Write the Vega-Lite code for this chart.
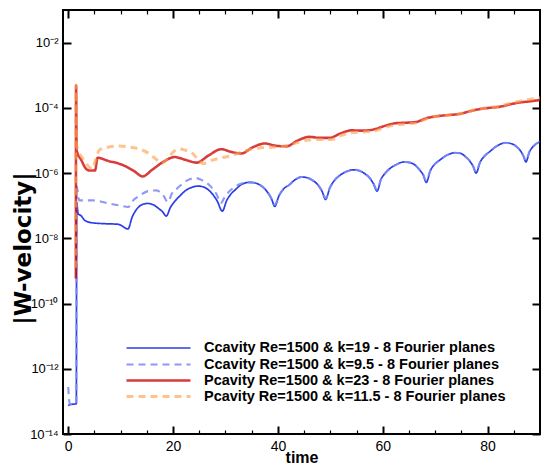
{
  "$schema": "https://vega.github.io/schema/vega-lite/v6.json",
  "width": 477,
  "height": 424,
  "autosize": {"type": "none"},
  "padding": {"left": 63, "top": 10, "right": 1, "bottom": 32},
  "background": "white",
  "config": {
    "view": {"stroke": "black", "strokeWidth": 2},
    "axis": {"ticks": true, "tickColor": "black", "tickWidth": 2, "labelColor": "black", "domain": false, "grid": false, "titleColor": "black"},
    "legend": {
      "orient": "none", "legendX": 86, "legendY": 329, "padding": 0,
      "symbolType": "M-4,0H4", "symbolSize": 256,
      "labelFont": "Liberation Sans", "labelFontSize": 14.5, "labelFontWeight": "bold", "labelColor": "black",
      "labelOffset": 36, "rowPadding": -0.5, "labelLimit": 0
    }
  },
  "data": {"values": [
    {"series": "Ccavity Re=1500 & k=19 - 8 Fourier planes", "time": 0, "velocity": 7.4e-14},
    {"series": "Ccavity Re=1500 & k=19 - 8 Fourier planes", "time": 0.3, "velocity": 7.9e-14},
    {"series": "Ccavity Re=1500 & k=19 - 8 Fourier planes", "time": 1.55, "velocity": 8.5e-14},
    {"series": "Ccavity Re=1500 & k=19 - 8 Fourier planes", "time": 1.6, "velocity": 1.26e-7},
    {"series": "Ccavity Re=1500 & k=19 - 8 Fourier planes", "time": 1.9, "velocity": 5.6e-8},
    {"series": "Ccavity Re=1500 & k=19 - 8 Fourier planes", "time": 2.4, "velocity": 5.0e-8},
    {"series": "Ccavity Re=1500 & k=19 - 8 Fourier planes", "time": 3.2, "velocity": 3.5e-8},
    {"series": "Ccavity Re=1500 & k=19 - 8 Fourier planes", "time": 4.5, "velocity": 3.0e-8},
    {"series": "Ccavity Re=1500 & k=19 - 8 Fourier planes", "time": 7.0, "velocity": 2.8e-8},
    {"series": "Ccavity Re=1500 & k=19 - 8 Fourier planes", "time": 9.5, "velocity": 2.7e-8},
    {"series": "Ccavity Re=1500 & k=19 - 8 Fourier planes", "time": 11.4, "velocity": 1.95e-8},
    {"series": "Ccavity Re=1500 & k=19 - 8 Fourier planes", "time": 12.2, "velocity": 4.5e-8},
    {"series": "Ccavity Re=1500 & k=19 - 8 Fourier planes", "time": 13.2, "velocity": 8.3e-8},
    {"series": "Ccavity Re=1500 & k=19 - 8 Fourier planes", "time": 14.2, "velocity": 1.10e-7},
    {"series": "Ccavity Re=1500 & k=19 - 8 Fourier planes", "time": 15.2, "velocity": 1.17e-7},
    {"series": "Ccavity Re=1500 & k=19 - 8 Fourier planes", "time": 16.2, "velocity": 1.07e-7},
    {"series": "Ccavity Re=1500 & k=19 - 8 Fourier planes", "time": 17.2, "velocity": 8.3e-8},
    {"series": "Ccavity Re=1500 & k=19 - 8 Fourier planes", "time": 18.0, "velocity": 6.5e-8},
    {"series": "Ccavity Re=1500 & k=19 - 8 Fourier planes", "time": 18.7, "velocity": 4.8e-8},
    {"series": "Ccavity Re=1500 & k=19 - 8 Fourier planes", "time": 19.5, "velocity": 8.9e-8},
    {"series": "Ccavity Re=1500 & k=19 - 8 Fourier planes", "time": 20.4, "velocity": 1.41e-7},
    {"series": "Ccavity Re=1500 & k=19 - 8 Fourier planes", "time": 21.3, "velocity": 2.0e-7},
    {"series": "Ccavity Re=1500 & k=19 - 8 Fourier planes", "time": 22.5, "velocity": 3.0e-7},
    {"series": "Ccavity Re=1500 & k=19 - 8 Fourier planes", "time": 23.7, "velocity": 3.7e-7},
    {"series": "Ccavity Re=1500 & k=19 - 8 Fourier planes", "time": 24.8, "velocity": 4.0e-7},
    {"series": "Ccavity Re=1500 & k=19 - 8 Fourier planes", "time": 25.9, "velocity": 3.7e-7},
    {"series": "Ccavity Re=1500 & k=19 - 8 Fourier planes", "time": 27.0, "velocity": 2.8e-7},
    {"series": "Ccavity Re=1500 & k=19 - 8 Fourier planes", "time": 27.6, "velocity": 2.19e-7},
    {"series": "Ccavity Re=1500 & k=19 - 8 Fourier planes", "time": 28.4, "velocity": 1.41e-7},
    {"series": "Ccavity Re=1500 & k=19 - 8 Fourier planes", "time": 29.4, "velocity": 6.8e-8},
    {"series": "Ccavity Re=1500 & k=19 - 8 Fourier planes", "time": 30.2, "velocity": 1.41e-7},
    {"series": "Ccavity Re=1500 & k=19 - 8 Fourier planes", "time": 31.0, "velocity": 2.24e-7},
    {"series": "Ccavity Re=1500 & k=19 - 8 Fourier planes", "time": 31.8, "velocity": 3.0e-7},
    {"series": "Ccavity Re=1500 & k=19 - 8 Fourier planes", "time": 32.8, "velocity": 4.2e-7},
    {"series": "Ccavity Re=1500 & k=19 - 8 Fourier planes", "time": 33.8, "velocity": 5.0e-7},
    {"series": "Ccavity Re=1500 & k=19 - 8 Fourier planes", "time": 34.6, "velocity": 5.2e-7},
    {"series": "Ccavity Re=1500 & k=19 - 8 Fourier planes", "time": 35.6, "velocity": 5.0e-7},
    {"series": "Ccavity Re=1500 & k=19 - 8 Fourier planes", "time": 36.6, "velocity": 4.3e-7},
    {"series": "Ccavity Re=1500 & k=19 - 8 Fourier planes", "time": 37.4, "velocity": 3.4e-7},
    {"series": "Ccavity Re=1500 & k=19 - 8 Fourier planes", "time": 38.2, "velocity": 2.34e-7},
    {"series": "Ccavity Re=1500 & k=19 - 8 Fourier planes", "time": 38.8, "velocity": 1.58e-7},
    {"series": "Ccavity Re=1500 & k=19 - 8 Fourier planes", "time": 39.4, "velocity": 9.5e-8},
    {"series": "Ccavity Re=1500 & k=19 - 8 Fourier planes", "time": 40.2, "velocity": 2.0e-7},
    {"series": "Ccavity Re=1500 & k=19 - 8 Fourier planes", "time": 41.0, "velocity": 3.16e-7},
    {"series": "Ccavity Re=1500 & k=19 - 8 Fourier planes", "time": 42.2, "velocity": 4.4e-7},
    {"series": "Ccavity Re=1500 & k=19 - 8 Fourier planes", "time": 43.3, "velocity": 6.3e-7},
    {"series": "Ccavity Re=1500 & k=19 - 8 Fourier planes", "time": 44.5, "velocity": 7.6e-7},
    {"series": "Ccavity Re=1500 & k=19 - 8 Fourier planes", "time": 45.6, "velocity": 7.2e-7},
    {"series": "Ccavity Re=1500 & k=19 - 8 Fourier planes", "time": 46.6, "velocity": 6.0e-7},
    {"series": "Ccavity Re=1500 & k=19 - 8 Fourier planes", "time": 47.6, "velocity": 4.4e-7},
    {"series": "Ccavity Re=1500 & k=19 - 8 Fourier planes", "time": 48.4, "velocity": 2.8e-7},
    {"series": "Ccavity Re=1500 & k=19 - 8 Fourier planes", "time": 49.1, "velocity": 1.55e-7},
    {"series": "Ccavity Re=1500 & k=19 - 8 Fourier planes", "time": 49.9, "velocity": 3.5e-7},
    {"series": "Ccavity Re=1500 & k=19 - 8 Fourier planes", "time": 50.8, "velocity": 6.0e-7},
    {"series": "Ccavity Re=1500 & k=19 - 8 Fourier planes", "time": 51.8, "velocity": 8.5e-7},
    {"series": "Ccavity Re=1500 & k=19 - 8 Fourier planes", "time": 53.0, "velocity": 1.10e-6},
    {"series": "Ccavity Re=1500 & k=19 - 8 Fourier planes", "time": 54.4, "velocity": 1.26e-6},
    {"series": "Ccavity Re=1500 & k=19 - 8 Fourier planes", "time": 55.6, "velocity": 1.17e-6},
    {"series": "Ccavity Re=1500 & k=19 - 8 Fourier planes", "time": 56.6, "velocity": 9.5e-7},
    {"series": "Ccavity Re=1500 & k=19 - 8 Fourier planes", "time": 57.5, "velocity": 7.1e-7},
    {"series": "Ccavity Re=1500 & k=19 - 8 Fourier planes", "time": 58.2, "velocity": 4.8e-7},
    {"series": "Ccavity Re=1500 & k=19 - 8 Fourier planes", "time": 58.9, "velocity": 2.8e-7},
    {"series": "Ccavity Re=1500 & k=19 - 8 Fourier planes", "time": 59.7, "velocity": 6.6e-7},
    {"series": "Ccavity Re=1500 & k=19 - 8 Fourier planes", "time": 60.5, "velocity": 1.0e-6},
    {"series": "Ccavity Re=1500 & k=19 - 8 Fourier planes", "time": 61.3, "velocity": 1.35e-6},
    {"series": "Ccavity Re=1500 & k=19 - 8 Fourier planes", "time": 62.6, "velocity": 1.82e-6},
    {"series": "Ccavity Re=1500 & k=19 - 8 Fourier planes", "time": 64.0, "velocity": 2.19e-6},
    {"series": "Ccavity Re=1500 & k=19 - 8 Fourier planes", "time": 65.2, "velocity": 2.09e-6},
    {"series": "Ccavity Re=1500 & k=19 - 8 Fourier planes", "time": 66.2, "velocity": 1.74e-6},
    {"series": "Ccavity Re=1500 & k=19 - 8 Fourier planes", "time": 67.0, "velocity": 1.26e-6},
    {"series": "Ccavity Re=1500 & k=19 - 8 Fourier planes", "time": 67.7, "velocity": 8.9e-7},
    {"series": "Ccavity Re=1500 & k=19 - 8 Fourier planes", "time": 68.3, "velocity": 5.2e-7},
    {"series": "Ccavity Re=1500 & k=19 - 8 Fourier planes", "time": 69.1, "velocity": 1.20e-6},
    {"series": "Ccavity Re=1500 & k=19 - 8 Fourier planes", "time": 69.9, "velocity": 1.86e-6},
    {"series": "Ccavity Re=1500 & k=19 - 8 Fourier planes", "time": 70.8, "velocity": 2.45e-6},
    {"series": "Ccavity Re=1500 & k=19 - 8 Fourier planes", "time": 72.2, "velocity": 3.5e-6},
    {"series": "Ccavity Re=1500 & k=19 - 8 Fourier planes", "time": 73.8, "velocity": 4.2e-6},
    {"series": "Ccavity Re=1500 & k=19 - 8 Fourier planes", "time": 74.9, "velocity": 4.0e-6},
    {"series": "Ccavity Re=1500 & k=19 - 8 Fourier planes", "time": 75.8, "velocity": 3.16e-6},
    {"series": "Ccavity Re=1500 & k=19 - 8 Fourier planes", "time": 76.6, "velocity": 2.34e-6},
    {"series": "Ccavity Re=1500 & k=19 - 8 Fourier planes", "time": 77.2, "velocity": 1.66e-6},
    {"series": "Ccavity Re=1500 & k=19 - 8 Fourier planes", "time": 77.8, "velocity": 1.0e-6},
    {"series": "Ccavity Re=1500 & k=19 - 8 Fourier planes", "time": 78.6, "velocity": 2.19e-6},
    {"series": "Ccavity Re=1500 & k=19 - 8 Fourier planes", "time": 79.4, "velocity": 3.3e-6},
    {"series": "Ccavity Re=1500 & k=19 - 8 Fourier planes", "time": 80.3, "velocity": 4.4e-6},
    {"series": "Ccavity Re=1500 & k=19 - 8 Fourier planes", "time": 81.8, "velocity": 6.8e-6},
    {"series": "Ccavity Re=1500 & k=19 - 8 Fourier planes", "time": 83.4, "velocity": 8.5e-6},
    {"series": "Ccavity Re=1500 & k=19 - 8 Fourier planes", "time": 84.6, "velocity": 7.9e-6},
    {"series": "Ccavity Re=1500 & k=19 - 8 Fourier planes", "time": 85.6, "velocity": 6.3e-6},
    {"series": "Ccavity Re=1500 & k=19 - 8 Fourier planes", "time": 86.4, "velocity": 4.5e-6},
    {"series": "Ccavity Re=1500 & k=19 - 8 Fourier planes", "time": 86.9, "velocity": 3.16e-6},
    {"series": "Ccavity Re=1500 & k=19 - 8 Fourier planes", "time": 87.3, "velocity": 2.19e-6},
    {"series": "Ccavity Re=1500 & k=19 - 8 Fourier planes", "time": 88.0, "velocity": 4.5e-6},
    {"series": "Ccavity Re=1500 & k=19 - 8 Fourier planes", "time": 88.8, "velocity": 6.8e-6},
    {"series": "Ccavity Re=1500 & k=19 - 8 Fourier planes", "time": 89.8, "velocity": 8.9e-6},
    {"series": "Ccavity Re=1500 & k=19 - 8 Fourier planes", "time": 90.0, "velocity": 9.3e-6},

    {"series": "Ccavity Re=1500 & k=9.5 - 8 Fourier planes", "time": 0, "velocity": 2.75e-13},
    {"series": "Ccavity Re=1500 & k=9.5 - 8 Fourier planes", "time": 0.3, "velocity": 8.3e-14},
    {"series": "Ccavity Re=1500 & k=9.5 - 8 Fourier planes", "time": 1.55, "velocity": 8.9e-14},
    {"series": "Ccavity Re=1500 & k=9.5 - 8 Fourier planes", "time": 1.6, "velocity": 4.0e-7},
    {"series": "Ccavity Re=1500 & k=9.5 - 8 Fourier planes", "time": 2.1, "velocity": 1.45e-7},
    {"series": "Ccavity Re=1500 & k=9.5 - 8 Fourier planes", "time": 4.8, "velocity": 1.45e-7},
    {"series": "Ccavity Re=1500 & k=9.5 - 8 Fourier planes", "time": 7.9, "velocity": 1.15e-7},
    {"series": "Ccavity Re=1500 & k=9.5 - 8 Fourier planes", "time": 10.0, "velocity": 1.0e-7},
    {"series": "Ccavity Re=1500 & k=9.5 - 8 Fourier planes", "time": 11.4, "velocity": 9.1e-8},
    {"series": "Ccavity Re=1500 & k=9.5 - 8 Fourier planes", "time": 12.5, "velocity": 1.51e-7},
    {"series": "Ccavity Re=1500 & k=9.5 - 8 Fourier planes", "time": 13.7, "velocity": 2.09e-7},
    {"series": "Ccavity Re=1500 & k=9.5 - 8 Fourier planes", "time": 15.2, "velocity": 2.8e-7},
    {"series": "Ccavity Re=1500 & k=9.5 - 8 Fourier planes", "time": 16.8, "velocity": 2.95e-7},
    {"series": "Ccavity Re=1500 & k=9.5 - 8 Fourier planes", "time": 18.2, "velocity": 2.0e-7},
    {"series": "Ccavity Re=1500 & k=9.5 - 8 Fourier planes", "time": 19.0, "velocity": 1.29e-7},
    {"series": "Ccavity Re=1500 & k=9.5 - 8 Fourier planes", "time": 19.8, "velocity": 2.4e-7},
    {"series": "Ccavity Re=1500 & k=9.5 - 8 Fourier planes", "time": 20.8, "velocity": 3.4e-7},
    {"series": "Ccavity Re=1500 & k=9.5 - 8 Fourier planes", "time": 21.8, "velocity": 4.7e-7},
    {"series": "Ccavity Re=1500 & k=9.5 - 8 Fourier planes", "time": 23.0, "velocity": 6.3e-7},
    {"series": "Ccavity Re=1500 & k=9.5 - 8 Fourier planes", "time": 24.2, "velocity": 7.1e-7},
    {"series": "Ccavity Re=1500 & k=9.5 - 8 Fourier planes", "time": 25.3, "velocity": 6.3e-7},
    {"series": "Ccavity Re=1500 & k=9.5 - 8 Fourier planes", "time": 26.4, "velocity": 5.0e-7},
    {"series": "Ccavity Re=1500 & k=9.5 - 8 Fourier planes", "time": 27.3, "velocity": 3.7e-7},
    {"series": "Ccavity Re=1500 & k=9.5 - 8 Fourier planes", "time": 28.3, "velocity": 2.24e-7},
    {"series": "Ccavity Re=1500 & k=9.5 - 8 Fourier planes", "time": 29.1, "velocity": 1.20e-7},
    {"series": "Ccavity Re=1500 & k=9.5 - 8 Fourier planes", "time": 29.8, "velocity": 1.78e-7},
    {"series": "Ccavity Re=1500 & k=9.5 - 8 Fourier planes", "time": 30.8, "velocity": 2.8e-7},
    {"series": "Ccavity Re=1500 & k=9.5 - 8 Fourier planes", "time": 31.8, "velocity": 3.8e-7},
    {"series": "Ccavity Re=1500 & k=9.5 - 8 Fourier planes", "time": 32.8, "velocity": 4.6e-7},
    {"series": "Ccavity Re=1500 & k=9.5 - 8 Fourier planes", "time": 33.8, "velocity": 5.1e-7},
    {"series": "Ccavity Re=1500 & k=9.5 - 8 Fourier planes", "time": 34.6, "velocity": 5.2e-7},
    {"series": "Ccavity Re=1500 & k=9.5 - 8 Fourier planes", "time": 35.6, "velocity": 5.0e-7},
    {"series": "Ccavity Re=1500 & k=9.5 - 8 Fourier planes", "time": 36.6, "velocity": 4.3e-7},
    {"series": "Ccavity Re=1500 & k=9.5 - 8 Fourier planes", "time": 37.4, "velocity": 3.4e-7},
    {"series": "Ccavity Re=1500 & k=9.5 - 8 Fourier planes", "time": 38.2, "velocity": 2.4e-7},
    {"series": "Ccavity Re=1500 & k=9.5 - 8 Fourier planes", "time": 38.8, "velocity": 1.66e-7},
    {"series": "Ccavity Re=1500 & k=9.5 - 8 Fourier planes", "time": 39.4, "velocity": 1.07e-7},
    {"series": "Ccavity Re=1500 & k=9.5 - 8 Fourier planes", "time": 40.2, "velocity": 2.04e-7},
    {"series": "Ccavity Re=1500 & k=9.5 - 8 Fourier planes", "time": 41.0, "velocity": 3.16e-7},
    {"series": "Ccavity Re=1500 & k=9.5 - 8 Fourier planes", "time": 42.2, "velocity": 4.4e-7},
    {"series": "Ccavity Re=1500 & k=9.5 - 8 Fourier planes", "time": 43.3, "velocity": 6.3e-7},
    {"series": "Ccavity Re=1500 & k=9.5 - 8 Fourier planes", "time": 44.5, "velocity": 7.6e-7},
    {"series": "Ccavity Re=1500 & k=9.5 - 8 Fourier planes", "time": 45.6, "velocity": 7.2e-7},
    {"series": "Ccavity Re=1500 & k=9.5 - 8 Fourier planes", "time": 46.6, "velocity": 6.0e-7},
    {"series": "Ccavity Re=1500 & k=9.5 - 8 Fourier planes", "time": 47.6, "velocity": 4.4e-7},
    {"series": "Ccavity Re=1500 & k=9.5 - 8 Fourier planes", "time": 48.4, "velocity": 2.9e-7},
    {"series": "Ccavity Re=1500 & k=9.5 - 8 Fourier planes", "time": 49.1, "velocity": 1.70e-7},
    {"series": "Ccavity Re=1500 & k=9.5 - 8 Fourier planes", "time": 49.9, "velocity": 3.5e-7},
    {"series": "Ccavity Re=1500 & k=9.5 - 8 Fourier planes", "time": 50.8, "velocity": 6.0e-7},
    {"series": "Ccavity Re=1500 & k=9.5 - 8 Fourier planes", "time": 51.8, "velocity": 8.5e-7},
    {"series": "Ccavity Re=1500 & k=9.5 - 8 Fourier planes", "time": 53.0, "velocity": 1.10e-6},
    {"series": "Ccavity Re=1500 & k=9.5 - 8 Fourier planes", "time": 54.4, "velocity": 1.26e-6},
    {"series": "Ccavity Re=1500 & k=9.5 - 8 Fourier planes", "time": 55.6, "velocity": 1.17e-6},
    {"series": "Ccavity Re=1500 & k=9.5 - 8 Fourier planes", "time": 56.6, "velocity": 9.5e-7},
    {"series": "Ccavity Re=1500 & k=9.5 - 8 Fourier planes", "time": 57.5, "velocity": 7.1e-7},
    {"series": "Ccavity Re=1500 & k=9.5 - 8 Fourier planes", "time": 58.2, "velocity": 4.9e-7},
    {"series": "Ccavity Re=1500 & k=9.5 - 8 Fourier planes", "time": 58.9, "velocity": 3.1e-7},
    {"series": "Ccavity Re=1500 & k=9.5 - 8 Fourier planes", "time": 59.7, "velocity": 6.8e-7},
    {"series": "Ccavity Re=1500 & k=9.5 - 8 Fourier planes", "time": 60.5, "velocity": 1.0e-6},
    {"series": "Ccavity Re=1500 & k=9.5 - 8 Fourier planes", "time": 61.3, "velocity": 1.35e-6},
    {"series": "Ccavity Re=1500 & k=9.5 - 8 Fourier planes", "time": 62.6, "velocity": 1.82e-6},
    {"series": "Ccavity Re=1500 & k=9.5 - 8 Fourier planes", "time": 64.0, "velocity": 2.19e-6},
    {"series": "Ccavity Re=1500 & k=9.5 - 8 Fourier planes", "time": 65.2, "velocity": 2.09e-6},
    {"series": "Ccavity Re=1500 & k=9.5 - 8 Fourier planes", "time": 66.2, "velocity": 1.74e-6},
    {"series": "Ccavity Re=1500 & k=9.5 - 8 Fourier planes", "time": 67.0, "velocity": 1.29e-6},
    {"series": "Ccavity Re=1500 & k=9.5 - 8 Fourier planes", "time": 67.7, "velocity": 9.1e-7},
    {"series": "Ccavity Re=1500 & k=9.5 - 8 Fourier planes", "time": 68.3, "velocity": 5.8e-7},
    {"series": "Ccavity Re=1500 & k=9.5 - 8 Fourier planes", "time": 69.1, "velocity": 1.23e-6},
    {"series": "Ccavity Re=1500 & k=9.5 - 8 Fourier planes", "time": 69.9, "velocity": 1.86e-6},
    {"series": "Ccavity Re=1500 & k=9.5 - 8 Fourier planes", "time": 70.8, "velocity": 2.45e-6},
    {"series": "Ccavity Re=1500 & k=9.5 - 8 Fourier planes", "time": 72.2, "velocity": 3.5e-6},
    {"series": "Ccavity Re=1500 & k=9.5 - 8 Fourier planes", "time": 73.8, "velocity": 4.2e-6},
    {"series": "Ccavity Re=1500 & k=9.5 - 8 Fourier planes", "time": 74.9, "velocity": 4.0e-6},
    {"series": "Ccavity Re=1500 & k=9.5 - 8 Fourier planes", "time": 75.8, "velocity": 3.16e-6},
    {"series": "Ccavity Re=1500 & k=9.5 - 8 Fourier planes", "time": 76.6, "velocity": 2.34e-6},
    {"series": "Ccavity Re=1500 & k=9.5 - 8 Fourier planes", "time": 77.2, "velocity": 1.70e-6},
    {"series": "Ccavity Re=1500 & k=9.5 - 8 Fourier planes", "time": 77.8, "velocity": 1.10e-6},
    {"series": "Ccavity Re=1500 & k=9.5 - 8 Fourier planes", "time": 78.6, "velocity": 2.24e-6},
    {"series": "Ccavity Re=1500 & k=9.5 - 8 Fourier planes", "time": 79.4, "velocity": 3.3e-6},
    {"series": "Ccavity Re=1500 & k=9.5 - 8 Fourier planes", "time": 80.3, "velocity": 4.4e-6},
    {"series": "Ccavity Re=1500 & k=9.5 - 8 Fourier planes", "time": 81.8, "velocity": 6.8e-6},
    {"series": "Ccavity Re=1500 & k=9.5 - 8 Fourier planes", "time": 83.4, "velocity": 8.5e-6},
    {"series": "Ccavity Re=1500 & k=9.5 - 8 Fourier planes", "time": 84.6, "velocity": 7.9e-6},
    {"series": "Ccavity Re=1500 & k=9.5 - 8 Fourier planes", "time": 85.6, "velocity": 6.3e-6},
    {"series": "Ccavity Re=1500 & k=9.5 - 8 Fourier planes", "time": 86.4, "velocity": 4.5e-6},
    {"series": "Ccavity Re=1500 & k=9.5 - 8 Fourier planes", "time": 86.9, "velocity": 3.2e-6},
    {"series": "Ccavity Re=1500 & k=9.5 - 8 Fourier planes", "time": 87.3, "velocity": 2.4e-6},
    {"series": "Ccavity Re=1500 & k=9.5 - 8 Fourier planes", "time": 88.0, "velocity": 4.6e-6},
    {"series": "Ccavity Re=1500 & k=9.5 - 8 Fourier planes", "time": 88.8, "velocity": 6.8e-6},
    {"series": "Ccavity Re=1500 & k=9.5 - 8 Fourier planes", "time": 89.8, "velocity": 8.9e-6},
    {"series": "Ccavity Re=1500 & k=9.5 - 8 Fourier planes", "time": 90.0, "velocity": 9.3e-6},

    {"series": "Pcavity Re=1500 & k=23 - 8 Fourier planes", "time": 1.45, "velocity": 5.9e-10},
    {"series": "Pcavity Re=1500 & k=23 - 8 Fourier planes", "time": 1.5, "velocity": 4.8e-4},
    {"series": "Pcavity Re=1500 & k=23 - 8 Fourier planes", "time": 1.6, "velocity": 5.0e-6},
    {"series": "Pcavity Re=1500 & k=23 - 8 Fourier planes", "time": 2.5, "velocity": 2.5e-6},
    {"series": "Pcavity Re=1500 & k=23 - 8 Fourier planes", "time": 3.3, "velocity": 1.41e-6},
    {"series": "Pcavity Re=1500 & k=23 - 8 Fourier planes", "time": 4.0, "velocity": 1.20e-6},
    {"series": "Pcavity Re=1500 & k=23 - 8 Fourier planes", "time": 5.1, "velocity": 1.20e-6},
    {"series": "Pcavity Re=1500 & k=23 - 8 Fourier planes", "time": 5.6, "velocity": 2.95e-6},
    {"series": "Pcavity Re=1500 & k=23 - 8 Fourier planes", "time": 7.5, "velocity": 2.4e-6},
    {"series": "Pcavity Re=1500 & k=23 - 8 Fourier planes", "time": 10.5, "velocity": 1.74e-6},
    {"series": "Pcavity Re=1500 & k=23 - 8 Fourier planes", "time": 12.5, "velocity": 1.17e-6},
    {"series": "Pcavity Re=1500 & k=23 - 8 Fourier planes", "time": 14.2, "velocity": 7.9e-7},
    {"series": "Pcavity Re=1500 & k=23 - 8 Fourier planes", "time": 16.0, "velocity": 1.26e-6},
    {"series": "Pcavity Re=1500 & k=23 - 8 Fourier planes", "time": 18.0, "velocity": 2.14e-6},
    {"series": "Pcavity Re=1500 & k=23 - 8 Fourier planes", "time": 20.3, "velocity": 3.1e-6},
    {"series": "Pcavity Re=1500 & k=23 - 8 Fourier planes", "time": 22.5, "velocity": 2.5e-6},
    {"series": "Pcavity Re=1500 & k=23 - 8 Fourier planes", "time": 24.5, "velocity": 2.09e-6},
    {"series": "Pcavity Re=1500 & k=23 - 8 Fourier planes", "time": 26.8, "velocity": 3.5e-6},
    {"series": "Pcavity Re=1500 & k=23 - 8 Fourier planes", "time": 29.2, "velocity": 5.4e-6},
    {"series": "Pcavity Re=1500 & k=23 - 8 Fourier planes", "time": 31.2, "velocity": 4.4e-6},
    {"series": "Pcavity Re=1500 & k=23 - 8 Fourier planes", "time": 33.0, "velocity": 4.0e-6},
    {"series": "Pcavity Re=1500 & k=23 - 8 Fourier planes", "time": 35.3, "velocity": 6.3e-6},
    {"series": "Pcavity Re=1500 & k=23 - 8 Fourier planes", "time": 37.5, "velocity": 8.1e-6},
    {"series": "Pcavity Re=1500 & k=23 - 8 Fourier planes", "time": 39.6, "velocity": 6.9e-6},
    {"series": "Pcavity Re=1500 & k=23 - 8 Fourier planes", "time": 41.6, "velocity": 6.6e-6},
    {"series": "Pcavity Re=1500 & k=23 - 8 Fourier planes", "time": 43.8, "velocity": 1.0e-5},
    {"series": "Pcavity Re=1500 & k=23 - 8 Fourier planes", "time": 46.0, "velocity": 1.29e-5},
    {"series": "Pcavity Re=1500 & k=23 - 8 Fourier planes", "time": 48.0, "velocity": 1.20e-5},
    {"series": "Pcavity Re=1500 & k=23 - 8 Fourier planes", "time": 49.8, "velocity": 1.20e-5},
    {"series": "Pcavity Re=1500 & k=23 - 8 Fourier planes", "time": 52.0, "velocity": 1.66e-5},
    {"series": "Pcavity Re=1500 & k=23 - 8 Fourier planes", "time": 54.0, "velocity": 2.04e-5},
    {"series": "Pcavity Re=1500 & k=23 - 8 Fourier planes", "time": 56.0, "velocity": 2.0e-5},
    {"series": "Pcavity Re=1500 & k=23 - 8 Fourier planes", "time": 58.1, "velocity": 2.14e-5},
    {"series": "Pcavity Re=1500 & k=23 - 8 Fourier planes", "time": 60.4, "velocity": 2.8e-5},
    {"series": "Pcavity Re=1500 & k=23 - 8 Fourier planes", "time": 62.6, "velocity": 3.4e-5},
    {"series": "Pcavity Re=1500 & k=23 - 8 Fourier planes", "time": 64.5, "velocity": 3.5e-5},
    {"series": "Pcavity Re=1500 & k=23 - 8 Fourier planes", "time": 66.4, "velocity": 3.7e-5},
    {"series": "Pcavity Re=1500 & k=23 - 8 Fourier planes", "time": 68.3, "velocity": 4.8e-5},
    {"series": "Pcavity Re=1500 & k=23 - 8 Fourier planes", "time": 70.2, "velocity": 5.5e-5},
    {"series": "Pcavity Re=1500 & k=23 - 8 Fourier planes", "time": 72.4, "velocity": 6.0e-5},
    {"series": "Pcavity Re=1500 & k=23 - 8 Fourier planes", "time": 74.6, "velocity": 6.5e-5},
    {"series": "Pcavity Re=1500 & k=23 - 8 Fourier planes", "time": 76.5, "velocity": 7.8e-5},
    {"series": "Pcavity Re=1500 & k=23 - 8 Fourier planes", "time": 78.4, "velocity": 9.1e-5},
    {"series": "Pcavity Re=1500 & k=23 - 8 Fourier planes", "time": 80.3, "velocity": 1.0e-4},
    {"series": "Pcavity Re=1500 & k=23 - 8 Fourier planes", "time": 82.2, "velocity": 1.07e-4},
    {"series": "Pcavity Re=1500 & k=23 - 8 Fourier planes", "time": 84.1, "velocity": 1.26e-4},
    {"series": "Pcavity Re=1500 & k=23 - 8 Fourier planes", "time": 86.0, "velocity": 1.45e-4},
    {"series": "Pcavity Re=1500 & k=23 - 8 Fourier planes", "time": 88.0, "velocity": 1.58e-4},
    {"series": "Pcavity Re=1500 & k=23 - 8 Fourier planes", "time": 90.0, "velocity": 1.74e-4},

    {"series": "Pcavity Re=1500 & k=11.5 - 8 Fourier planes", "time": 1.4, "velocity": 1.26e-9},
    {"series": "Pcavity Re=1500 & k=11.5 - 8 Fourier planes", "time": 1.48, "velocity": 5.0e-4},
    {"series": "Pcavity Re=1500 & k=11.5 - 8 Fourier planes", "time": 1.6, "velocity": 7.1e-6},
    {"series": "Pcavity Re=1500 & k=11.5 - 8 Fourier planes", "time": 1.9, "velocity": 5.0e-6},
    {"series": "Pcavity Re=1500 & k=11.5 - 8 Fourier planes", "time": 3.0, "velocity": 2.5e-6},
    {"series": "Pcavity Re=1500 & k=11.5 - 8 Fourier planes", "time": 4.6, "velocity": 1.35e-6},
    {"series": "Pcavity Re=1500 & k=11.5 - 8 Fourier planes", "time": 5.2, "velocity": 2.5e-6},
    {"series": "Pcavity Re=1500 & k=11.5 - 8 Fourier planes", "time": 6.0, "velocity": 5.2e-6},
    {"series": "Pcavity Re=1500 & k=11.5 - 8 Fourier planes", "time": 7.8, "velocity": 6.3e-6},
    {"series": "Pcavity Re=1500 & k=11.5 - 8 Fourier planes", "time": 9.8, "velocity": 6.8e-6},
    {"series": "Pcavity Re=1500 & k=11.5 - 8 Fourier planes", "time": 11.8, "velocity": 6.2e-6},
    {"series": "Pcavity Re=1500 & k=11.5 - 8 Fourier planes", "time": 13.7, "velocity": 5.4e-6},
    {"series": "Pcavity Re=1500 & k=11.5 - 8 Fourier planes", "time": 15.6, "velocity": 3.8e-6},
    {"series": "Pcavity Re=1500 & k=11.5 - 8 Fourier planes", "time": 17.0, "velocity": 2.5e-6},
    {"series": "Pcavity Re=1500 & k=11.5 - 8 Fourier planes", "time": 17.9, "velocity": 2.0e-6},
    {"series": "Pcavity Re=1500 & k=11.5 - 8 Fourier planes", "time": 19.2, "velocity": 3.16e-6},
    {"series": "Pcavity Re=1500 & k=11.5 - 8 Fourier planes", "time": 20.3, "velocity": 4.8e-6},
    {"series": "Pcavity Re=1500 & k=11.5 - 8 Fourier planes", "time": 21.3, "velocity": 5.5e-6},
    {"series": "Pcavity Re=1500 & k=11.5 - 8 Fourier planes", "time": 22.4, "velocity": 5.0e-6},
    {"series": "Pcavity Re=1500 & k=11.5 - 8 Fourier planes", "time": 23.5, "velocity": 4.3e-6},
    {"series": "Pcavity Re=1500 & k=11.5 - 8 Fourier planes", "time": 24.8, "velocity": 2.6e-6},
    {"series": "Pcavity Re=1500 & k=11.5 - 8 Fourier planes", "time": 25.8, "velocity": 1.95e-6},
    {"series": "Pcavity Re=1500 & k=11.5 - 8 Fourier planes", "time": 27.5, "velocity": 2.5e-6},
    {"series": "Pcavity Re=1500 & k=11.5 - 8 Fourier planes", "time": 29.5, "velocity": 3.0e-6},
    {"series": "Pcavity Re=1500 & k=11.5 - 8 Fourier planes", "time": 31.4, "velocity": 3.5e-6},
    {"series": "Pcavity Re=1500 & k=11.5 - 8 Fourier planes", "time": 33.5, "velocity": 4.7e-6},
    {"series": "Pcavity Re=1500 & k=11.5 - 8 Fourier planes", "time": 36.2, "velocity": 5.8e-6},
    {"series": "Pcavity Re=1500 & k=11.5 - 8 Fourier planes", "time": 38.5, "velocity": 6.2e-6},
    {"series": "Pcavity Re=1500 & k=11.5 - 8 Fourier planes", "time": 41.0, "velocity": 6.6e-6},
    {"series": "Pcavity Re=1500 & k=11.5 - 8 Fourier planes", "time": 44.0, "velocity": 8.9e-6},
    {"series": "Pcavity Re=1500 & k=11.5 - 8 Fourier planes", "time": 45.5, "velocity": 1.02e-5},
    {"series": "Pcavity Re=1500 & k=11.5 - 8 Fourier planes", "time": 47.8, "velocity": 1.07e-5},
    {"series": "Pcavity Re=1500 & k=11.5 - 8 Fourier planes", "time": 50.3, "velocity": 1.07e-5},
    {"series": "Pcavity Re=1500 & k=11.5 - 8 Fourier planes", "time": 51.8, "velocity": 1.38e-5},
    {"series": "Pcavity Re=1500 & k=11.5 - 8 Fourier planes", "time": 53.7, "velocity": 1.70e-5},
    {"series": "Pcavity Re=1500 & k=11.5 - 8 Fourier planes", "time": 56.0, "velocity": 1.82e-5},
    {"series": "Pcavity Re=1500 & k=11.5 - 8 Fourier planes", "time": 58.1, "velocity": 1.91e-5},
    {"series": "Pcavity Re=1500 & k=11.5 - 8 Fourier planes", "time": 60.4, "velocity": 2.5e-5},
    {"series": "Pcavity Re=1500 & k=11.5 - 8 Fourier planes", "time": 62.3, "velocity": 3.0e-5},
    {"series": "Pcavity Re=1500 & k=11.5 - 8 Fourier planes", "time": 64.5, "velocity": 3.2e-5},
    {"series": "Pcavity Re=1500 & k=11.5 - 8 Fourier planes", "time": 66.4, "velocity": 3.4e-5},
    {"series": "Pcavity Re=1500 & k=11.5 - 8 Fourier planes", "time": 68.3, "velocity": 4.6e-5},
    {"series": "Pcavity Re=1500 & k=11.5 - 8 Fourier planes", "time": 70.2, "velocity": 5.5e-5},
    {"series": "Pcavity Re=1500 & k=11.5 - 8 Fourier planes", "time": 72.4, "velocity": 5.9e-5},
    {"series": "Pcavity Re=1500 & k=11.5 - 8 Fourier planes", "time": 74.6, "velocity": 6.5e-5},
    {"series": "Pcavity Re=1500 & k=11.5 - 8 Fourier planes", "time": 76.5, "velocity": 7.9e-5},
    {"series": "Pcavity Re=1500 & k=11.5 - 8 Fourier planes", "time": 78.4, "velocity": 9.3e-5},
    {"series": "Pcavity Re=1500 & k=11.5 - 8 Fourier planes", "time": 80.3, "velocity": 1.02e-4},
    {"series": "Pcavity Re=1500 & k=11.5 - 8 Fourier planes", "time": 82.2, "velocity": 1.12e-4},
    {"series": "Pcavity Re=1500 & k=11.5 - 8 Fourier planes", "time": 84.1, "velocity": 1.35e-4},
    {"series": "Pcavity Re=1500 & k=11.5 - 8 Fourier planes", "time": 86.0, "velocity": 1.58e-4},
    {"series": "Pcavity Re=1500 & k=11.5 - 8 Fourier planes", "time": 88.0, "velocity": 1.82e-4},
    {"series": "Pcavity Re=1500 & k=11.5 - 8 Fourier planes", "time": 90.0, "velocity": 2.04e-4}
  ]},
  "encoding": {
    "x": {"field": "time", "type": "quantitative", "scale": {"domain": [-1, 90], "nice": false, "zero": false}, "axis": null},
    "y": {"field": "velocity", "type": "quantitative", "scale": {"type": "log", "domain": [1e-14, 0.1], "nice": false}, "axis": null},
    "color": {"field": "series", "type": "nominal", "title": null,
      "scale": {"domain": ["Ccavity Re=1500 & k=19 - 8 Fourier planes", "Ccavity Re=1500 & k=9.5 - 8 Fourier planes", "Pcavity Re=1500 & k=23 - 8 Fourier planes", "Pcavity Re=1500 & k=11.5 - 8 Fourier planes"],
                "range": ["#2b3de6", "#7f8bf5", "#cc0000", "#ffa352"]}},
    "strokeDash": {"field": "series", "type": "nominal", "title": null,
      "scale": {"domain": ["Ccavity Re=1500 & k=19 - 8 Fourier planes", "Ccavity Re=1500 & k=9.5 - 8 Fourier planes", "Pcavity Re=1500 & k=23 - 8 Fourier planes", "Pcavity Re=1500 & k=11.5 - 8 Fourier planes"],
                "range": [[1, 0], [7, 5], [1, 0], [7, 5]]}},
    "strokeWidth": {"field": "series", "type": "nominal", "title": null,
      "scale": {"domain": ["Ccavity Re=1500 & k=19 - 8 Fourier planes", "Ccavity Re=1500 & k=9.5 - 8 Fourier planes", "Pcavity Re=1500 & k=23 - 8 Fourier planes", "Pcavity Re=1500 & k=11.5 - 8 Fourier planes"],
                "range": [1.7, 3, 1.8, 3]}},
    "opacity": {"field": "series", "type": "nominal", "title": null,
      "scale": {"domain": ["Ccavity Re=1500 & k=19 - 8 Fourier planes", "Ccavity Re=1500 & k=9.5 - 8 Fourier planes", "Pcavity Re=1500 & k=23 - 8 Fourier planes", "Pcavity Re=1500 & k=11.5 - 8 Fourier planes"],
                "range": [1, 0.65, 1, 1]}}
  },
  "layer": [
    {"mark": {"type": "line", "clip": true, "interpolate": "monotone"}, "transform": [{"filter": {"field": "series", "equal": "Ccavity Re=1500 & k=19 - 8 Fourier planes"}}]},
    {"mark": {"type": "line", "clip": true, "interpolate": "monotone"}, "transform": [{"filter": {"field": "series", "equal": "Ccavity Re=1500 & k=9.5 - 8 Fourier planes"}}]},
    {"mark": {"type": "line", "clip": true, "interpolate": "monotone"}, "transform": [{"filter": {"field": "series", "equal": "Pcavity Re=1500 & k=23 - 8 Fourier planes"}}]},
    {"mark": {"type": "line", "clip": true, "interpolate": "monotone"}, "transform": [{"filter": {"field": "series", "equal": "Pcavity Re=1500 & k=11.5 - 8 Fourier planes"}}]},
    {
      "mark": {"type": "point", "opacity": 0},
      "transform": [{"filter": "datum.time == 0"}],
      "encoding": {
        "opacity": {"value": 0},
        "x": {"field": "time", "type": "quantitative",
          "axis": {"orient": "bottom", "values": [0, 20, 40, 60, 80], "tickSize": -8,
                   "labelFont": "Liberation Sans", "labelFontSize": 14, "labelPadding": 13, "labelAngle": 0, "format": "d",
                   "title": "time", "titleFont": "Liberation Sans", "titleFontSize": 16, "titleFontWeight": "bold",
                   "titleBaseline": "alphabetic", "titleY": 28}},
        "y": {"field": "velocity", "type": "quantitative",
          "axis": {"orient": "left", "values": [1e-14, 1e-12, 1e-10, 1e-8, 1e-6, 1e-4, 1e-2], "tickSize": -8,
                   "labelFont": "Liberation Sans", "labelFontSize": 13, "labelPadding": 13,
                   "labelExpr": "'10' + (datum.value < 1e-13 ? '⁻¹⁴' : datum.value < 1e-11 ? '⁻¹²' : datum.value < 1e-9 ? '⁻¹⁰' : datum.value < 1e-7 ? '⁻⁸' : datum.value < 1e-5 ? '⁻⁶' : datum.value < 1e-3 ? '⁻⁴' : '⁻²')",
                   "title": "|W-velocity|", "titleFont": "DejaVu Sans", "titleFontSize": 23, "titleFontWeight": "bold",
                   "titleAngle": 270, "titleBaseline": "alphabetic", "titleAlign": "center", "titleX": -33, "titleY": 238}}
      }
    },
    {
      "mark": {"type": "point", "opacity": 0},
      "transform": [{"filter": "datum.time == 0"}],
      "encoding": {
        "opacity": {"value": 0},
        "x": {"field": "time", "type": "quantitative",
          "axis": {"orient": "top", "values": [0, 20, 40, 60, 80], "tickSize": -8, "labels": false, "title": null}},
        "y": {"field": "velocity", "type": "quantitative",
          "axis": {"orient": "right", "values": [1e-14, 1e-12, 1e-10, 1e-8, 1e-6, 1e-4, 1e-2], "tickSize": -8, "labels": false, "title": null}}
      }
    },
    {
      "mark": {"type": "point", "opacity": 0},
      "transform": [{"filter": "datum.time == 0"}],
      "encoding": {
        "opacity": {"value": 0},
        "x": {"field": "time", "type": "quantitative",
          "axis": {"orient": "bottom", "values": [5, 10, 15, 25, 30, 35, 45, 50, 55, 65, 70, 75, 85], "tickSize": -4, "tickWidth": 1.2, "labels": false, "title": null}},
        "y": {"field": "velocity", "type": "quantitative", "axis": null}
      }
    },
    {
      "mark": {"type": "point", "opacity": 0},
      "transform": [{"filter": "datum.time == 0"}],
      "encoding": {
        "opacity": {"value": 0},
        "x": {"field": "time", "type": "quantitative",
          "axis": {"orient": "top", "values": [5, 10, 15, 25, 30, 35, 45, 50, 55, 65, 70, 75, 85], "tickSize": -4, "tickWidth": 1.2, "labels": false, "title": null}},
        "y": {"field": "velocity", "type": "quantitative", "axis": null}
      }
    }
  ]
}
